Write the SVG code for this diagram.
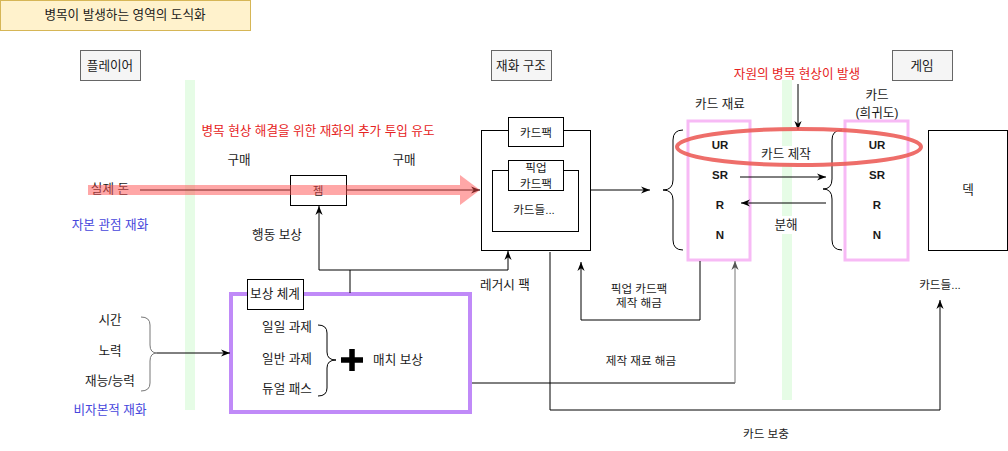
<svg xmlns="http://www.w3.org/2000/svg" width="1008" height="451" viewBox="0 0 1008 451">
<style>
text{font-family:"Liberation Sans","Noto Sans CJK KR",sans-serif;font-size:12.6px;fill:#1a1a1a;text-anchor:middle;dominant-baseline:central}
.s{font-size:11.6px}
.red{fill:#e62222}
.blue{fill:#4646dc}
.b{font-weight:bold;font-size:11.5px}
.box{fill:#fff;stroke:#000;stroke-width:1}
.hdr{fill:#f5f5f5;stroke:#666;stroke-width:1}
.pink{fill:none;stroke:#f7baf5;stroke-width:3}
.ln{fill:none;stroke:#000;stroke-width:1}
.gr{fill:#e6fce6}
.brace{fill:none;stroke:#000;stroke-width:1}
</style>
<defs>
<marker id="arr" viewBox="0 0 10 10" refX="10" refY="5" markerWidth="9" markerHeight="9" orient="auto" markerUnits="userSpaceOnUse"><path d="M0,1 L10,5 L0,9 L3,5 z" fill="#000"/></marker>
<marker id="arrg" viewBox="0 0 10 10" refX="10" refY="5" markerWidth="9" markerHeight="9" orient="auto" markerUnits="userSpaceOnUse"><path d="M0,1 L10,5 L0,9 L3,5 z" fill="#555"/></marker>
</defs>
<rect width="1008" height="451" fill="#fff"/>

<g id="green-bars">
<rect class="gr" x="185" y="80" width="10" height="330"/>
<rect class="gr" x="782" y="80" width="10" height="320"/>
</g>

<g id="title">
<rect x="0.5" y="0.5" width="250" height="30" fill="#fff2cc" stroke="#d6b656"/>
<text x="125" y="15">병목이 발생하는 영역의 도식화</text>
</g>

<g id="player"><rect class="hdr" x="80.5" y="50.5" width="60" height="30"/><text x="110" y="66">플레이어</text></g>
<g id="currency-structure"><rect class="hdr" x="491.5" y="50.5" width="60" height="30"/><text x="521" y="66">재화 구조</text></g>
<g id="game"><rect class="hdr" x="892.5" y="50.5" width="60" height="30"/><text x="922" y="66">게임</text></g>

<g id="labels">
<text class="red" x="318" y="131">병목 현상 해결을 위한 재화의 추가 투입 유도</text>
<text x="239" y="160">구매</text>
<text x="404" y="160">구매</text>
<text x="110" y="189">실제 돈</text>
<text class="blue" x="110" y="225">자본 관점 재화</text>
<text x="277" y="235">행동 보상</text>
<text x="505" y="285">레거시 팩</text>
<text x="110" y="320">시간</text>
<text x="110" y="351">노력</text>
<text x="110" y="381">재능/능력</text>
<text class="blue" x="110" y="410">비자본적 재화</text>
<text class="red" x="797" y="74">자원의 병목 현상이 발생</text>
<text x="720" y="104">카드 재료</text>
<text x="877" y="95">카드</text>
<text x="877" y="113">(희귀도)</text>
<text class="s" x="639" y="288">픽업 카드팩</text>
<text class="s" x="639" y="302">제작 해금</text>
<text class="s" x="641" y="360">제작 재료 해금</text>
<text class="s" x="766" y="433">카드 보충</text>
<text class="s" x="940" y="284">카드들...</text>
</g>

<g id="gem"><rect x="290.5" y="175.5" width="56" height="30" fill="none" stroke="#000"/><text class="s" x="318" y="190">젬</text></g>

<g id="cardpack-structure">
<rect x="481.5" y="130.5" width="109" height="120" fill="none" stroke="#000"/>
<rect x="492.5" y="170.5" width="86" height="61" fill="none" stroke="#000"/>
<text class="s" x="534" y="209">카드들...</text>
</g>
<g id="cardpack"><rect class="box" x="508.5" y="117.5" width="55" height="29"/><text class="s" x="536" y="132">카드팩</text></g>
<g id="pickup-cardpack"><rect class="box" x="508.5" y="160.5" width="55" height="30"/><text class="s" x="536" y="167">픽업</text><text class="s" x="536" y="183">카드팩</text></g>

<g id="card-material">
<rect class="pink" x="688" y="121" width="62" height="139"/>
<text class="b" x="720" y="145">UR</text>
<text class="b" x="720" y="175">SR</text>
<text class="b" x="720" y="205">R</text>
<text class="b" x="720" y="235">N</text>
<path class="brace" d="M683,130 Q673,130 673,140 V180 Q673,190 663,190 Q673,190 673,200 V240 Q673,250 683,250"/>
</g>

<g id="card-rarity">
<rect class="pink" x="845" y="121" width="63" height="139"/>
<text class="b" x="877" y="145">UR</text>
<text class="b" x="877" y="175">SR</text>
<text class="b" x="877" y="205">R</text>
<text class="b" x="877" y="235">N</text>
<path class="brace" d="M842,130 Q832,130 832,140 V179 Q832,189 823,189 Q832,189 832,199 V240 Q832,250 842,250"/>
</g>

<g id="deck"><rect class="box" x="928.5" y="130.5" width="79" height="120"/><text x="968" y="190">덱</text></g>

<g id="reward-system">
<rect x="231" y="294" width="239" height="118" fill="none" stroke="#c08af8" stroke-width="4"/>
<text x="287" y="327">일일 과제</text>
<text x="287" y="359">일반 과제</text>
<text x="287" y="389">듀얼 패스</text>
<path class="brace" d="M318,325 Q327,325 327,333 V352 Q327,360 336,360 Q327,360 327,368 V388 Q327,396 318,396"/>
<path d="M352,349 V371 M341,360 H363" stroke="#000" stroke-width="5.5" fill="none"/>
<text x="398" y="360">매치 보상</text>
</g>
<g id="reward-system-label"><rect class="box" x="247.5" y="279.5" width="56" height="30"/><text x="275" y="294">보상 체계</text></g>

<g id="inputs-brace"><path d="M141,317 Q150,317 150,325 V345 Q150,353 157,353 Q150,353 150,361 V383 Q150,391 141,391" fill="none" stroke="#777" stroke-width="1"/></g>

<g id="connectors">
<path class="ln" d="M140,190 H290"/>
<path class="ln" d="M346,190 H480" marker-end="url(#arr)"/>
<path class="ln" d="M350,293 V270 H319 V206" marker-end="url(#arr)"/>
<path class="ln" d="M350,270 H508 V251" marker-end="url(#arr)"/>
<path class="ln" d="M590,190 H650" marker-end="url(#arr)"/>
<path class="ln" d="M740,177 H826" marker-end="url(#arr)"/>
<path class="ln" d="M826,203 H741" marker-end="url(#arr)"/>
<path class="ln" d="M798,84 V130" marker-end="url(#arr)"/>
<path class="ln" d="M700,261 V320 H581 V262" marker-end="url(#arr)"/>
<path class="ln" d="M472,383 H735"/>
<path d="M735,383 V261" fill="none" stroke="#777" marker-end="url(#arrg)"/>
<path class="ln" d="M550,252 V410 H940 V300" marker-end="url(#arr)"/>
<path class="ln" d="M157,353 H230" marker-end="url(#arr)"/>
</g>

<g id="money-flow">
<path d="M88,185 H460 V175 L480,190 L460,205 V195 H88 Z" fill="#ff5050" opacity="0.5"/>
</g>

<g id="bottleneck">
<rect x="761" y="146" width="50" height="17" fill="#fff"/>
<text x="786" y="154">카드 제작</text>
<rect x="773" y="216" width="26" height="18" fill="#fff"/>
<text x="786" y="225">분해</text>
<ellipse cx="799" cy="147" rx="122" ry="18" fill="none" stroke="#ec5e5a" stroke-width="4" opacity="0.9"/>
</g>
</svg>
